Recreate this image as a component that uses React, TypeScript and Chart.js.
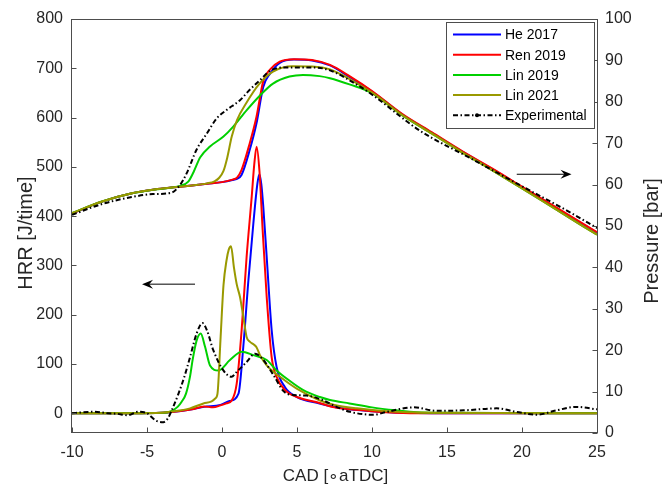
import React, { useEffect, useRef } from 'react';
import { Chart, registerables } from 'chart.js';

Chart.register(...registerables);

const FONT = '"Liberation Sans", Arial, Helvetica, sans-serif';
const TEXT = '#262626';
const FRAME = '#4d4d4d';

// ---------- Pressure curves (right axis, bar) ----------
const heCadP = [-10, -8, -6, -4.5, -3, -2, -1, 0, 0.7, 1.0, 1.3, 1.85, 2.3, 2.75, 3.2, 3.85, 4.8, 6.0, 7.2, 8.5, 10, 12, 14, 16, 18, 20, 22, 24, 25];
const heP = [53.0, 55.9, 57.9, 58.8, 59.4, 59.8, 60.2, 60.6, 61.1, 61.4, 62.3, 68.4, 74.8, 83.6, 86.8, 89.4, 90.2, 90.0, 88.8, 86.0, 82.5, 77.0, 72.5, 68.0, 63.8, 59.4, 55.0, 50.6, 48.4];

const renCadP = [-10, -8, -6, -4.5, -3, -2, -1, 0, 0.7, 1.0, 1.3, 1.85, 2.3, 2.75, 3.2, 3.85, 4.8, 6.0, 7.2, 8.5, 10, 12, 14, 16, 18, 20, 22, 24, 25];
const renP = [53.0, 55.9, 57.9, 58.8, 59.4, 59.8, 60.2, 60.6, 61.2, 61.7, 63.5, 70.0, 76.4, 85.0, 87.8, 89.7, 90.3, 90.1, 88.9, 86.2, 82.6, 77.1, 72.6, 68.1, 63.9, 59.5, 55.1, 50.7, 48.5];

const lin19CadP = [-10, -8, -6, -4.5, -3.3, -2.8, -2.25, -1.9, -1.45, -0.8, 0.1, 0.75, 1.65, 2.55, 3.4, 4.5, 5.4, 6.5, 7.2, 8.5, 10, 12, 14, 16, 18, 20, 22, 24, 25];
const lin19P = [53.1, 55.9, 57.9, 58.8, 59.3, 59.7, 60.7, 63.0, 66.6, 69.2, 71.6, 74.0, 78.0, 81.6, 84.4, 86.1, 86.5, 86.2, 85.7, 84.2, 82.1, 76.8, 72.3, 67.8, 63.5, 59.1, 54.6, 50.1, 47.9];

const lin21CadP = [-10, -8, -6, -4.5, -3, -2, -1, -0.5, -0.2, 0.1, 0.35, 0.65, 1.0, 1.6, 2.5, 3.4, 4.7, 6.0, 7.2, 8.5, 10, 12, 14, 16, 18, 20, 22, 24, 25];
const lin21P = [53.1, 55.9, 57.9, 58.8, 59.4, 59.8, 60.3, 60.8, 61.6, 63.3, 66.5, 71.6, 75.6, 79.6, 84.4, 87.3, 88.6, 88.5, 87.8, 85.5, 82.2, 76.8, 72.3, 67.8, 63.5, 59.1, 54.6, 50.1, 47.9];

const expCadP = [-10, -8, -6, -4.6, -3.4, -2.8, -2.36, -1.7, -1.0, -0.35, 0.3, 1.2, 1.85, 2.55, 3.2, 4.3, 6.1, 7.2, 8.5, 9.9, 13.2, 16.5, 19.9, 23.2, 25];
const expP = [52.7, 55.3, 57.0, 57.7, 58.0, 59.9, 62.7, 68.4, 72.4, 76.0, 78.0, 80.4, 82.9, 85.3, 87.5, 88.3, 88.3, 87.6, 85.2, 82.0, 73.0, 66.5, 59.8, 53.3, 49.5];

// ---------- Heat release rate curves (left axis, J/time) ----------
const heCadH = [-10, -6, -4, -3.5, -2, -1.2, -0.1, 0.5, 1.1, 1.42, 1.76, 2.09, 2.36, 2.49, 2.62, 2.75, 2.98, 3.31, 3.64, 4.2, 5.0, 6.5, 8, 10, 12, 14, 25];
const heH = [0, 0, 1, 2, 8, 13, 17, 25, 40, 135, 270, 385, 466, 485, 465, 420, 317, 169, 94, 53, 33, 20, 10, 4, 1, 0, 0];

const renCadH = [-10, -6, -4, -3.5, -2, -1.2, -0.6, -0.1, 0.3, 0.65, 0.98, 1.31, 1.64, 1.98, 2.15, 2.31, 2.5, 2.71, 2.98, 3.31, 3.64, 4.2, 5.0, 6.5, 7.5, 9.4, 11, 13, 25];
const renH = [0, 0, 1, 2, 8, 14, 12, 16, 20, 26, 60, 169, 317, 439, 505, 541, 490, 372, 236, 114, 74, 47, 33, 21, 12, 6, 2, 0, 0];

const lin19CadH = [-10, -6, -4, -3.47, -2.96, -2.7, -2.4, -2.13, -1.95, -1.69, -1.42, -1.13, -0.8, -0.24, 0.53, 1.31, 2.09, 2.98, 3.64, 4.42, 5.42, 6.53, 7.2, 8.5, 10, 11.6, 13, 15, 25];
const lin19H = [0, 0, 1, 3, 13, 23, 40, 75, 110, 148, 162, 135, 97, 87, 108, 125, 118, 108, 87, 68, 47, 33, 27, 20, 12, 6, 2, 1, 0];

const lin21CadH = [-10, -6, -4, -3.47, -2.13, -1.24, -0.69, -0.45, -0.3, -0.1, 0.1, 0.3, 0.45, 0.6, 0.8, 0.98, 1.2, 1.42, 1.64, 1.87, 2.1, 2.3, 2.53, 2.98, 3.87, 4.98, 6.53, 7.5, 9, 11, 14, 25];
const lin21H = [0, 0, 1, 3, 10, 20, 24, 30, 40, 150, 260, 310, 332, 339, 295, 262, 236, 196, 155, 145, 140, 134, 118, 97, 74, 50, 26, 17, 10, 4, 1, 0];

const expCadH = [-10, -9.3, -8.5, -7.6, -7, -6.3, -5.6, -5, -4.4, -3.9, -3.6, -3.35, -2.9, -2.5, -2.13, -1.69, -1.3, -1.0, -0.58, 0.09, 0.64, 0.98, 1.64, 2.2, 2.76, 3.5, 4.1, 4.76, 5.64, 6.76, 7.64, 8.53, 10.1, 11, 12.8, 14.3, 16.1, 18.3, 19.6, 21, 22.3, 23.6, 25];
const expH = [0, 2, 3, 0, -1, -4, 3, 0, -15, -18, -10, 6, 40, 75, 114, 162, 183, 168, 128, 87, 74, 84, 104, 121, 108, 74, 45, 37, 36, 26, 13, 3, -3, 3, 12, 5, 6, 10, 3, -3, 6, 13, 8];

// ---------- Axes, legend, annotations ----------
const hrrTicks = [0, 100, 200, 300, 400, 500, 600, 700, 800];
const xTitle = 'CAD [∘aTDC]';
const hrrTitle = 'HRR [J/time]';
const pTitle = 'Pressure [bar]';
const seriesNames = ['He 2017', 'Ren 2019', 'Lin 2019', 'Lin 2021', 'Experimental'];
const seriesColors = ['#0000ff', '#ff0000', '#00d000', '#999900', '#000000'];
const expDash = [5, 2.5, 1.5, 2.5];

// arrows: [tail CAD, head CAD], level
const hrrArrowCad = [-1.8, -5.33];
const hrrArrowLevel = 262;
const pArrowCad = [19.65, 23.3];
const pArrowLevel = 62.5;

const pts = (xs: number[], ys: number[]) => xs.map((x, i) => ({ x, y: ys[i] }));

function mk(label: string, color: string, xs: number[], ys: number[], axis: string, order: number, dash: number[] = []) {
  return {
    label,
    data: pts(xs, ys),
    yAxisID: axis,
    borderColor: color,
    backgroundColor: color,
    borderWidth: 2,
    borderDash: dash,
    pointRadius: 0,
    cubicInterpolationMode: 'monotone' as const,
    fill: false,
    order,
  };
}

function drawArrow(ctx: CanvasRenderingContext2D, x1: number, y1: number, x2: number, y2: number) {
  const ang = Math.atan2(y2 - y1, x2 - x1);
  const len = 11;
  const half = 4.5;
  ctx.beginPath();
  ctx.moveTo(x1, y1);
  ctx.lineTo(x2 - Math.cos(ang) * len * 0.6, y2 - Math.sin(ang) * len * 0.6);
  ctx.stroke();
  const bx = x2 - Math.cos(ang) * len;
  const by = y2 - Math.sin(ang) * len;
  const ix = x2 - Math.cos(ang) * len * 0.65;
  const iy = y2 - Math.sin(ang) * len * 0.65;
  const nx = -Math.sin(ang) * half;
  const ny = Math.cos(ang) * half;
  ctx.beginPath();
  ctx.moveTo(x2, y2);
  ctx.lineTo(bx + nx, by + ny);
  ctx.lineTo(ix, iy);
  ctx.lineTo(bx - nx, by - ny);
  ctx.closePath();
  ctx.fill();
}

const overlayPlugin = {
  id: 'overlay',
  afterDraw(chart: any) {
    const { ctx, chartArea, scales } = chart;
    const { left, right, top, bottom } = chartArea;
    ctx.save();
    // frame
    ctx.strokeStyle = FRAME;
    ctx.lineWidth = 1;
    ctx.setLineDash([]);
    const L = Math.round(left) - 0.5;
    const R = Math.round(right) + 0.5;
    const T = Math.round(top) + 0.5;
    const B = Math.round(bottom) - 0.5;
    ctx.strokeRect(L, T, R - L, B - T);
    // inward ticks
    const tl = 5;
    ctx.beginPath();
    scales.x.ticks.forEach((t: any) => {
      const px = Math.round(scales.x.getPixelForValue(t.value)) + 0.5;
      ctx.moveTo(px, B);
      ctx.lineTo(px, B - tl);
    });
    scales.y.ticks.forEach((t: any) => {
      const py = Math.round(scales.y.getPixelForValue(t.value)) + 0.5;
      ctx.moveTo(L, py);
      ctx.lineTo(L + tl, py);
    });
    scales.y1.ticks.forEach((t: any) => {
      const py = Math.round(scales.y1.getPixelForValue(t.value)) + 0.5;
      ctx.moveTo(R, py);
      ctx.lineTo(R - tl, py);
    });
    ctx.stroke();

    // axis titles
    ctx.fillStyle = TEXT;
    ctx.textAlign = 'center';
    ctx.textBaseline = 'middle';
    ctx.font = `17px ${FONT}`;
    ctx.fillText(xTitle, (left + right) / 2 + 1, 476);
    ctx.font = `20px ${FONT}`;
    ctx.save();
    ctx.translate(26, (top + bottom) / 2 + 7);
    ctx.rotate(-Math.PI / 2);
    ctx.fillText(hrrTitle, 0, 0);
    ctx.restore();
    ctx.save();
    ctx.translate(652, (top + bottom) / 2 + 15);
    ctx.rotate(-Math.PI / 2);
    ctx.fillText(pTitle, 0, 0);
    ctx.restore();

    // arrows
    ctx.strokeStyle = '#000';
    ctx.fillStyle = '#000';
    ctx.lineWidth = 1;
    const ay = scales.y.getPixelForValue(hrrArrowLevel);
    drawArrow(ctx, scales.x.getPixelForValue(hrrArrowCad[0]), ay, scales.x.getPixelForValue(hrrArrowCad[1]), ay);
    const by = scales.y1.getPixelForValue(pArrowLevel);
    drawArrow(ctx, scales.x.getPixelForValue(pArrowCad[0]), by, scales.x.getPixelForValue(pArrowCad[1]), by);

    // legend
    const w = 148;
    const h = 106;
    const x0 = Math.round(right) - 3 - w;
    const y0 = Math.round(top) + 3;
    ctx.fillStyle = '#ffffff';
    ctx.fillRect(x0, y0, w, h);
    ctx.strokeStyle = FRAME;
    ctx.lineWidth = 1;
    ctx.strokeRect(x0 + 0.5, y0 + 0.5, w, h);
    ctx.font = `14px ${FONT}`;
    ctx.textBaseline = 'middle';
    ctx.textAlign = 'left';
    seriesNames.forEach((name, i) => {
      const yy = y0 + 12.5 + i * 20.2;
      ctx.strokeStyle = seriesColors[i];
      ctx.lineWidth = 2;
      ctx.setLineDash(i === 4 ? expDash : []);
      ctx.beginPath();
      ctx.moveTo(x0 + 7, yy);
      ctx.lineTo(x0 + 55, yy);
      ctx.stroke();
      if (i === 4) {
        ctx.setLineDash([]);
        ctx.fillStyle = '#000';
        ctx.beginPath();
        ctx.arc(x0 + 31, yy, 2, 0, Math.PI * 2);
        ctx.fill();
      }
      ctx.fillStyle = '#000';
      ctx.fillText(name, x0 + 59, yy + 1);
    });
    ctx.restore();
  },
};

export default function App() {
  const ref = useRef<HTMLCanvasElement | null>(null);

  useEffect(() => {
    if (!ref.current) return;
    const tickFont = { family: FONT, size: 16 };
    const chart = new Chart(ref.current, {
      type: 'line',
      data: {
        datasets: [
          mk('He 2017', seriesColors[0], heCadP, heP, 'y1', 4),
          mk('Ren 2019', seriesColors[1], renCadP, renP, 'y1', 3),
          mk('Lin 2019', seriesColors[2], lin19CadP, lin19P, 'y1', 2),
          mk('Lin 2021', seriesColors[3], lin21CadP, lin21P, 'y1', 1),
          mk('Experimental', seriesColors[4], expCadP, expP, 'y1', 0, expDash),
          mk('He 2017', seriesColors[0], heCadH, heH, 'y', 4),
          mk('Ren 2019', seriesColors[1], renCadH, renH, 'y', 3),
          mk('Lin 2019', seriesColors[2], lin19CadH, lin19H, 'y', 2),
          mk('Lin 2021', seriesColors[3], lin21CadH, lin21H, 'y', 1),
          mk('Experimental', seriesColors[4], expCadH, expH, 'y', 0, expDash),
        ] as any,
      },
      options: {
        responsive: false,
        animation: false,
        events: [],
        layout: { padding: { top: 19, left: 0, right: 0, bottom: 0 } },
        plugins: { legend: { display: false }, tooltip: { enabled: false } },
        scales: {
          x: {
            type: 'linear',
            min: -10,
            max: 25,
            ticks: { stepSize: 5, color: TEXT, font: tickFont, padding: 10, maxRotation: 0 },
            grid: { display: false, drawTicks: false },
            border: { display: false },
            title: { display: false },
            afterFit: (s: any) => { s.height = 51; },
          },
          y: {
            type: 'linear',
            position: 'left',
            min: -40,
            max: 800,
            ticks: { color: TEXT, font: tickFont, padding: 9 },
            afterBuildTicks: (s: any) => { s.ticks = hrrTicks.map((v) => ({ value: v })); },
            grid: { display: false, drawTicks: false },
            border: { display: false },
            title: { display: false },
            afterFit: (s: any) => { s.width = 72; },
          },
          y1: {
            type: 'linear',
            position: 'right',
            min: 0,
            max: 100,
            ticks: { stepSize: 10, color: TEXT, font: tickFont, padding: 8 },
            grid: { display: false, drawTicks: false },
            border: { display: false },
            title: { display: false },
            afterFit: (s: any) => { s.width = 69; },
          },
        },
      } as any,
      plugins: [overlayPlugin],
    });
    return () => chart.destroy();
  }, []);

  return (
    <div style={{ position: 'fixed', left: 0, top: 0, width: 666, height: 484, background: '#fff' }}>
      <canvas ref={ref} width={666} height={484} style={{ display: 'block', width: 666, height: 484 }} />
    </div>
  );
}
